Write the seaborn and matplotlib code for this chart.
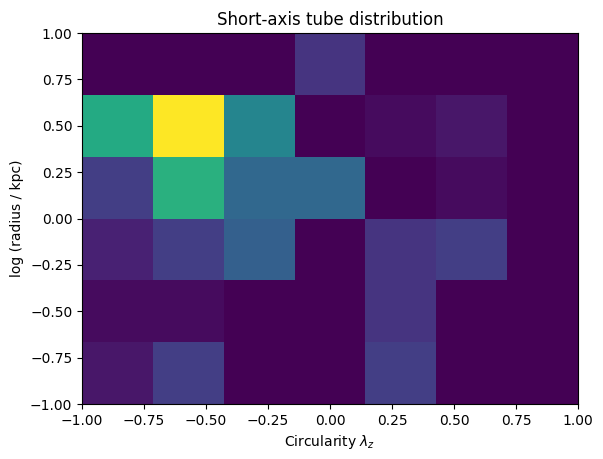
import matplotlib

matplotlib.use("Agg")

import numpy as np
import matplotlib.pyplot as plt
import seaborn as sns

# Bin counts, rows from bottom (log r = -1) to top (log r = +1),
# columns from lambda_z = -1 to +1
counts = [
    [2, 6, 0, 0, 6, 0, 0],
    [1, 1, 0, 0, 5, 0, 0],
    [3, 6, 10, 0, 5, 6, 0],
    [6, 21, 11, 11, 0, 1, 0],
    [20, 33, 15, 0, 1, 2, 0],
    [0, 0, 0, 5, 0, 0, 0],
]
n_xbins = 7
n_ybins = 6

x_edges = np.linspace(-1, 1, n_xbins + 1)
y_edges = np.linspace(-1, 1, n_ybins + 1)
x_centers = 0.5 * (x_edges[:-1] + x_edges[1:])
y_centers = 0.5 * (y_edges[:-1] + y_edges[1:])

# one weighted point per cell
xs, ys, ws = [], [], []
for j, row in enumerate(counts):
    for i, c in enumerate(row):
        xs.append(x_centers[i])
        ys.append(y_centers[j])
        ws.append(c)

fig, ax = plt.subplots(figsize=(6.03, 4.59), dpi=100)
sns.histplot(
    x=xs, y=ys, weights=ws,
    bins=[x_edges, y_edges],
    thresh=None, cmap="viridis", vmin=0,
    ax=ax,
)
ax.set_xlim(-1, 1)
ax.set_ylim(-1, 1)
ax.set_title("Short-axis tube distribution")
ax.set_xlabel(r"Circularity $\lambda_z$")
ax.set_ylabel("log (radius / kpc)")

plt.subplots_adjust(left=0.136, right=0.9585, top=0.928, bottom=0.1198)
fig.savefig("out.png", dpi=100)
plt.close("all")
